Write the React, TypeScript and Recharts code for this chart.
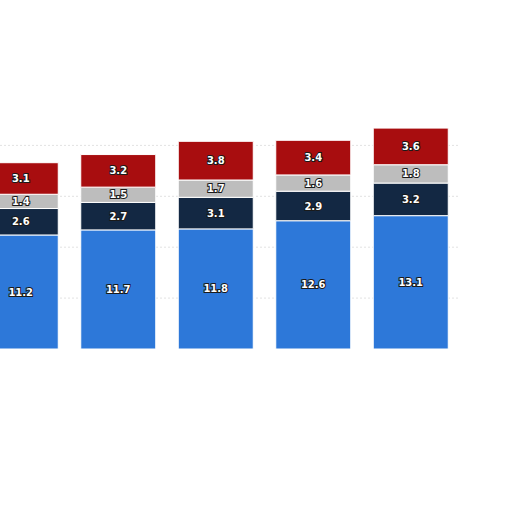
import { BarChart, Bar, XAxis, YAxis, CartesianGrid, LabelList } from 'recharts';

const years = ['2015', '2016', '2017', '2018', '2019'];
const blueValues = [11.2, 11.7, 11.8, 12.6, 13.1];
const navyValues = [2.6, 2.7, 3.1, 2.9, 3.2];
const grayValues = [1.4, 1.5, 1.7, 1.6, 1.8];
const redValues = [3.1, 3.2, 3.8, 3.4, 3.6];
const gridValues = [5, 10, 15, 20];

const data = years.map((year, i) => ({
  year,
  blue: blueValues[i],
  navy: navyValues[i],
  gray: grayValues[i],
  red: redValues[i],
}));

const labelStyle = {
  fill: '#ffffff',
  stroke: '#1a1a1a',
  strokeWidth: 2,
  paintOrder: 'stroke',
  fontFamily: 'DejaVu Sans',
  fontWeight: 700,
  fontSize: 10,
} as const;

const series = [
  { key: 'blue', color: '#2d78d9' },
  { key: 'navy', color: '#132843' },
  { key: 'gray', color: '#bdbdbd' },
  { key: 'red', color: '#a80d0f' },
];

export default function App() {
  return (
    <div
      style={{
        position: 'fixed',
        left: 0,
        top: 0,
        width: 512,
        height: 512,
        overflow: 'hidden',
        background: '#ffffff',
      }}
    >
      <div style={{ position: 'absolute', left: -28.25, top: 0 }}>
        <BarChart
          width={487.5}
          height={349}
          data={data}
          margin={{ top: 94.5, right: 0, bottom: 0, left: 0 }}
          barCategoryGap={11.25}
        >
          <CartesianGrid
            vertical={false}
            horizontalValues={gridValues}
            stroke="#e2e2e2"
            strokeDasharray="2 2"
          />
          <XAxis dataKey="year" hide />
          <YAxis hide domain={[0, 25]} ticks={gridValues} />
          {series.map((s) => (
            <Bar
              key={s.key}
              dataKey={s.key}
              stackId="a"
              fill={s.color}
              stroke="#ffffff"
              strokeWidth={1}
              isAnimationActive={false}
            >
              <LabelList dataKey={s.key} position="center" style={labelStyle} />
            </Bar>
          ))}
        </BarChart>
      </div>
    </div>
  );
}
